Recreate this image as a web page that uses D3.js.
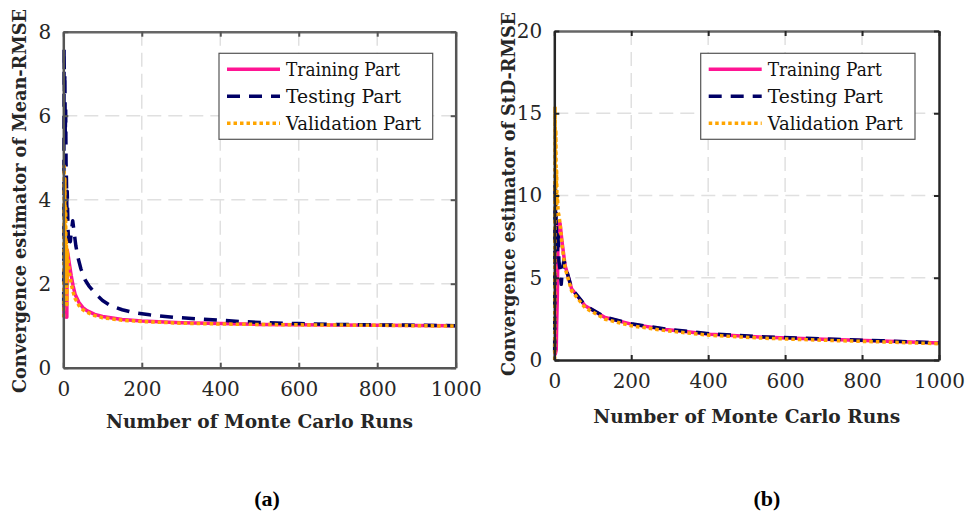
<!DOCTYPE html>
<html><head><meta charset="utf-8">
<script src="https://cdn.jsdelivr.net/npm/d3@7/dist/d3.min.js"></script>
<style>body{margin:0;background:#fff}svg{display:block}</style>
</head><body>
<svg id="c" width="965" height="515"></svg>
<script>
// ---- data ----
const seriesNames = ["Training Part", "Testing Part", "Validation Part"];
const xTicks = [0, 200, 400, 600, 800, 1000];
const yTicksA = [0, 2, 4, 6, 8];
const yTicksB = [0, 5, 10, 15, 20];

// (a) Mean-RMSE
const aTrainX = [1,2,3,4,5,6,7,8,9,10,12,15,20,25,30,40,50,60,80,100,150,200,300,400,500,600,800,1000];
const aTrainY = [1.5,1.3,1.2,1.25,1.6,2.2,2.9,2.6,1.2,2.8,2.7,2.5,2.2,1.95,1.75,1.55,1.43,1.36,1.27,1.22,1.15,1.11,1.07,1.05,1.03,1.02,1.01,1.0];
const aTestX = [1,2,3,4,5,6,7,8,9,10,12,14,16,18,20,24,28,32,38,45,55,65,80,100,120,150,180,220,280,350,400,450,520,600,700,800,900,1000];
const aTestY = [1.5,7.6,6.5,7.0,5.5,6.2,4.9,4.5,3.8,4.2,3.3,2.9,3.1,3.0,3.2,3.5,3.2,2.9,2.6,2.35,2.1,1.95,1.78,1.6,1.48,1.38,1.31,1.26,1.2,1.16,1.13,1.1,1.07,1.05,1.03,1.02,1.01,1.0];
const aValX = [1,2,3,4,5,6,7,8,9,10,12,15,20,25,30,40,50,60,80,100,150,200,300,400,600,800,1000];
const aValY = [1.2,4.8,3.2,4.5,2.5,3.8,2.0,3.0,1.5,2.8,2.6,2.3,2.0,1.8,1.65,1.48,1.38,1.32,1.24,1.19,1.13,1.1,1.06,1.04,1.02,1.01,0.99];

// (b) StD-RMSE
const bTrainX = [1,3,5,6,8,10,12,15,20,28,45,80,132,200,290,405,550,700,850,1000];
const bTrainY = [0.3,0.4,0.6,2.0,4.0,8.2,8.4,8.3,7.2,5.75,4.33,3.3,2.58,2.18,1.86,1.57,1.38,1.26,1.16,1.03];
const bTestX = [1,2,3,4,5,6,8,10,12,15,18,20,25,28,45,80,132,200,290,405,550,700,850,1000];
const bTestY = [0.5,10.8,9.0,10.3,7.5,8.2,6.5,7.8,6.0,5.5,4.6,5.2,6.1,5.78,4.36,3.32,2.6,2.2,1.88,1.59,1.4,1.28,1.17,1.05];
const bValX = [1,2,3,4,5,6,7,8,10,12,15,20,28,45,80,132,200,290,405,550,700,850,1000];
const bValY = [0,15.4,12.0,14.0,10.5,11.5,9.5,10.0,9.0,8.8,8.3,7.0,5.6,4.2,3.18,2.48,2.08,1.78,1.5,1.32,1.2,1.1,0.99];

// ---- drawing ----
const svg = d3.select("#c");
const colors = ["#ff1493", "#000066", "#ffa500"];
const dashes = [null, "13,9", "3.5,3"];
const serif = "'DejaVu Serif', serif";

function panel(o) {
  const x = d3.scaleLinear().domain([0, 1000]).range([o.x0, o.x1]);
  const y = d3.scaleLinear().domain(o.ydom).range([o.y1, o.y0]);
  const g = svg.append("g");
  // grid
  g.selectAll(".gx").data(xTicks.slice(1, -1)).join("line")
    .attr("x1", d => x(d)).attr("x2", d => x(d)).attr("y1", o.y0).attr("y2", o.y1)
    .attr("stroke", "#e0e0e0").attr("stroke-width", 1.5).attr("stroke-dasharray", "14,7");
  g.selectAll(".gy").data(o.yticks.slice(1, -1)).join("line")
    .attr("y1", d => y(d)).attr("y2", d => y(d)).attr("x1", o.x0).attr("x2", o.x1)
    .attr("stroke", "#e0e0e0").attr("stroke-width", 1.5).attr("stroke-dasharray", "14,7");
  // lines
  const line = d3.line().x(d => x(d[0])).y(d => y(d[1]));
  o.series.forEach((s, i) => {
    const pts = s[0].map((v, k) => [v, s[1][k]]);
    g.append("path").attr("d", line(pts)).attr("fill", "none")
      .attr("stroke", colors[i]).attr("stroke-width", 3.5)
      .attr("stroke-dasharray", dashes[i]).attr("stroke-linejoin", "round");
  });
  // axes
  const ax = o.axisColor;
  const bottom = d3.axisBottom(x).tickValues(xTicks).tickSize(-5).tickSizeOuter(0).tickPadding(14).tickFormat(d3.format("d"));
  const top = d3.axisTop(x).tickValues(xTicks).tickSize(-5).tickSizeOuter(0).tickFormat("");
  const left = d3.axisLeft(y).tickValues(o.yticks).tickSize(-5).tickSizeOuter(0).tickPadding(12).tickFormat(d3.format("d"));
  const right = d3.axisRight(y).tickValues(o.yticks).tickSize(-5).tickSizeOuter(0).tickFormat("");
  const styl = (sel) => {
    sel.attr("font-family", null).attr("font-size", null);
    sel.select(".domain").attr("stroke", ax).attr("stroke-width", 2.5);
    sel.selectAll(".tick line").attr("stroke", ax).attr("stroke-width", 2);
    sel.selectAll(".tick text").attr("fill", "#262626").style("font-family", serif).style("font-size", "20px");
  };
  g.append("g").attr("transform", `translate(0,${o.y0})`).call(top).call(styl).call(s => s.select(".domain").attr("stroke", o.topColor));
  g.append("g").attr("transform", `translate(${o.x1},0)`).call(right).call(styl);
  g.append("g").attr("transform", `translate(0,${o.y1})`).call(bottom).call(styl);
  g.append("g").attr("transform", `translate(${o.x0},0)`).call(left).call(styl);
  // labels
  g.append("text").text("Number of Monte Carlo Runs")
    .attr("x", (o.x0 + o.x1) / 2).attr("y", o.xlabY).attr("text-anchor", "middle")
    .attr("textLength", 307).attr("lengthAdjust", "spacingAndGlyphs")
    .style("font-family", serif).style("font-weight", "bold").style("font-size", "19px").attr("fill", "#262626");
  g.append("text").text(o.ylab)
    .attr("transform", `translate(${o.ylabX},${o.ylabC}) rotate(-90)`).attr("text-anchor", "middle")
    .attr("textLength", o.ylabLen).attr("lengthAdjust", "spacingAndGlyphs")
    .style("font-family", serif).style("font-weight", "bold").style("font-size", "18px").attr("fill", "#262626");
  // legend
  const lg = g.append("g").attr("transform", `translate(${o.lx},${o.ly})`);
  lg.append("rect").attr("width", o.lw).attr("height", 86).attr("fill", "#fff").attr("stroke", "#555").attr("stroke-width", 1.2);
  seriesNames.forEach((n, i) => {
    const yy = 16 + i * 27;
    lg.append("line").attr("x1", 8).attr("x2", 61).attr("y1", yy).attr("y2", yy)
      .attr("stroke", colors[i]).attr("stroke-width", 3.5).attr("stroke-dasharray", dashes[i]);
    lg.append("text").text(n).attr("x", 67).attr("y", yy + 7)
      .attr("textLength", [114, 115, 135][i]).attr("lengthAdjust", "spacingAndGlyphs")
      .style("font-family", serif).style("font-size", "19px").attr("fill", "#111");
  });
  svg.append("text").text(o.tag).attr("x", o.tagX).attr("y", 506).attr("text-anchor", "middle")
    .style("font-family", "'Liberation Serif', serif").style("font-weight", "bold").style("font-size", "22px");
}

panel({x0: 63.3, x1: 455.7, y0: 31.7, y1: 367.7, ydom: [0, 8], yticks: yTicksA,
  series: [[aTrainX, aTrainY], [aTestX, aTestY], [aValX, aValY]],
  axisColor: "#555", topColor: "#666", xlabY: 428, ylab: "Convergence estimator of Mean-RMSE",
  ylabX: 26, ylabC: 201, ylabLen: 384, lx: 219, ly: 53.3, lw: 213.7, tag: "(a)", tagX: 267});
panel({x0: 554.3, x1: 939, y0: 31, y1: 360, ydom: [0, 20], yticks: yTicksB,
  series: [[bTrainX, bTrainY], [bTestX, bTestY], [bValX, bValY]],
  axisColor: "#262626", topColor: "#666", xlabY: 422.7, ylab: "Convergence estimator of StD-RMSE",
  ylabX: 515, ylabC: 194, ylabLen: 364, lx: 700.7, ly: 53.3, lw: 214.3, tag: "(b)", tagX: 767});
</script>
</body></html>
